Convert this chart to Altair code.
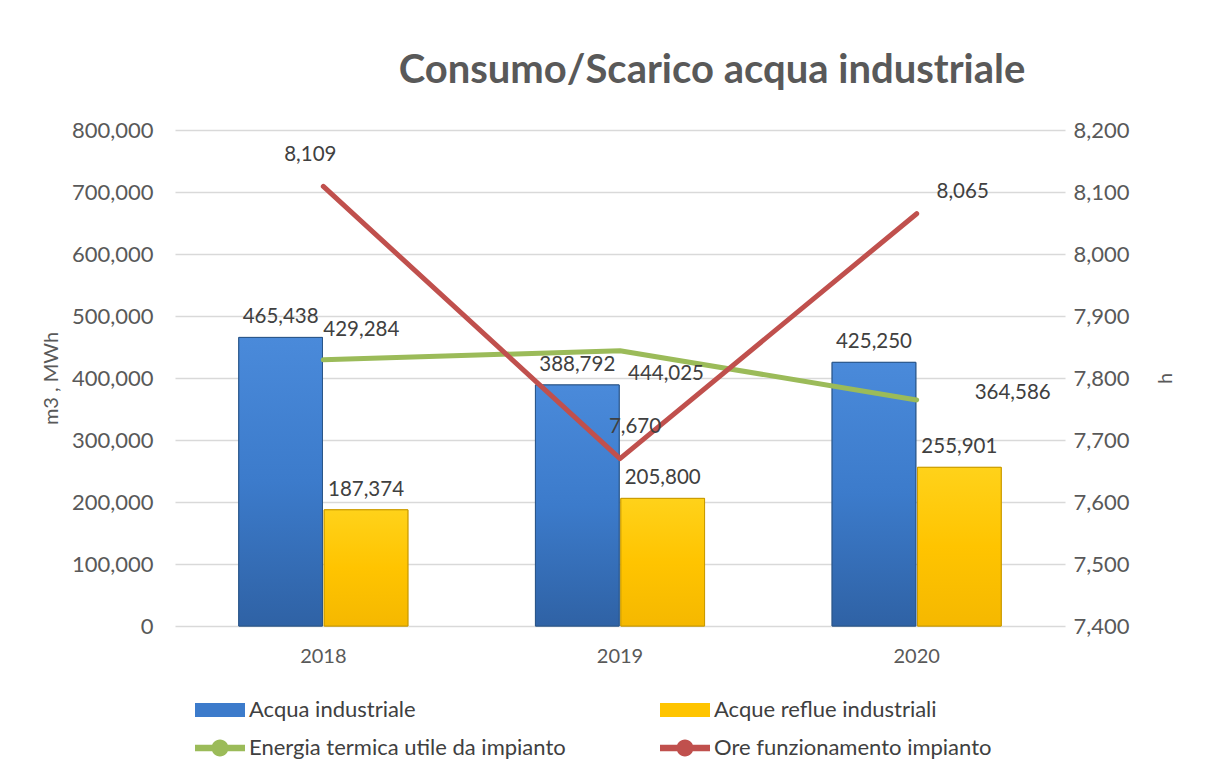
import altair as alt
import pandas as pd

# ---- data ----
anni = ["2018", "2019", "2020"]
acqua_industriale = [465438, 388792, 425250]
acque_reflue = [187374, 205800, 255901]
energia_termica = [429284, 444025, 364586]
ore_funzionamento = [8109, 7670, 8065]

S_ACQ = "Acqua industriale"
S_REF = "Acque reflue industriali"
S_ENE = "Energia termica utile da impianto"
S_ORE = "Ore funzionamento impianto"

bars_df = pd.DataFrame(
    {"anno": anni * 2,
     "serie": [S_ACQ] * 3 + [S_REF] * 3,
     "valore": acqua_industriale + acque_reflue}
)
ene_df = pd.DataFrame({"anno": anni, "serie": S_ENE, "valore": energia_termica})
ore_df = pd.DataFrame({"anno": anni, "serie": S_ORE, "valore": ore_funzionamento})

FONT = "Lato"
TXT = "#404040"
AX = "#595959"
BLUE = "#3C7BCB"
YELLOW = "#FFC400"
GREEN = "#9BBB59"
RED = "#C0504D"
FMT = ",.0f"

x_enc = alt.X(
    "anno:N",
    sort=anni,
    scale=alt.Scale(paddingInner=0.43, paddingOuter=0.215),
    axis=alt.Axis(title=None, labelAngle=0, ticks=False, domain=False,
                  labelFontSize=20, labelColor=AX, labelFont=FONT, labelPadding=20, grid=False),
)
y_left = alt.Y(
    "valore:Q",
    scale=alt.Scale(domain=[0, 800000], nice=False, zero=True),
    axis=alt.Axis(title="m3 , MWh", values=list(range(0, 800001, 100000)), format=FMT,
                  ticks=False, domain=False, labelFontSize=22, labelColor=AX, labelFont=FONT,
                  labelPadding=22, titleFontSize=20, titleColor=AX, titleFont=FONT,
                  titleFontWeight="normal", titlePadding=10,
                  grid=True, gridColor="#D9D9D9", gridWidth=1.5),
)
y_right = alt.Y(
    "valore:Q",
    scale=alt.Scale(domain=[7400, 8200], nice=False, zero=False),
    axis=alt.Axis(title="h", orient="right", values=list(range(7400, 8201, 100)), format=FMT,
                  ticks=False, domain=False, labelFontSize=22, labelColor=AX, labelFont=FONT,
                  labelPadding=8, titleFontSize=20, titleColor=AX, titleFont=FONT,
                  titleFontWeight="normal", titlePadding=46, titleAngle=270, grid=False),
)
xoff = alt.XOffset("serie:N", scale=alt.Scale(domain=[S_ACQ, S_REF], paddingInner=0.02))

RECT_PATH = "M-1,-0.28H1V0.28H-1Z"
LINE_PATH = "M-1,-0.13H1V0.13H-1Z M0.34,0A0.34,0.34,0,1,1,-0.34,0A0.34,0.34,0,1,1,0.34,0Z"


def leg(x, y, path, fill=None):
    kw = dict(title=None, orient="none", legendX=x, legendY=y, symbolType=path,
              symbolSize=2500, labelFontSize=22, labelColor=TXT, labelFont=FONT,
              labelOffset=4, symbolStrokeWidth=0, labelLimit=600)
    if fill:
        kw["symbolFillColor"] = fill
        kw["symbolStrokeColor"] = fill
    return alt.Legend(**kw)


def bar_layer(serie, color, edge, top, bottom, lx):
    base = alt.Chart(bars_df).transform_filter(alt.datum.serie == serie)
    flat = base.mark_bar(stroke=edge, strokeWidth=1).encode(
        x=x_enc, xOffset=xoff, y=y_left,
        color=alt.Color("serie:N", scale=alt.Scale(domain=[serie], range=[color]),
                        legend=leg(lx, 555, RECT_PATH)),
    )
    grad = base.mark_bar(
        stroke=edge, strokeWidth=1,
        fill=alt.Gradient(gradient="linear",
                          stops=[alt.GradientStop(color=top, offset=0),
                                 alt.GradientStop(color=color, offset=0.5),
                                 alt.GradientStop(color=bottom, offset=1)],
                          x1=0, x2=0, y1=0, y2=1),
    ).encode(x=x_enc, xOffset=xoff, y=y_left)
    lab = base.mark_text(baseline="bottom", dy=-10, fontSize=20.5, color=TXT, font=FONT).encode(
        x=x_enc, xOffset=xoff, y=y_left, text=alt.Text("valore:Q", format=FMT),
    )
    return [flat, grad, lab]


blue_layers = bar_layer(S_ACQ, BLUE, "#2B5688", "#4A8ADA", "#2F62A5", 20)
yellow_layers = bar_layer(S_REF, YELLOW, "#C99A00", "#FFD21A", "#F5B800", 485)

ene_line = alt.Chart(ene_df).mark_line(strokeWidth=5, strokeCap="round", strokeJoin="round").encode(
    x=x_enc, y=y_left,
    color=alt.Color("serie:N", scale=alt.Scale(domain=[S_ENE], range=[GREEN]),
                    legend=leg(20, 593, LINE_PATH, GREEN)),
)


def pt_label(df, anno, dx, dy, y, align="center"):
    return alt.Chart(df).transform_filter(alt.datum.anno == anno).mark_text(
        dx=dx, dy=dy, align=align, baseline="middle", fontSize=20.5, color=TXT, font=FONT
    ).encode(x=x_enc, y=y, text=alt.Text("valore:Q", format=FMT))


ene_labels = [
    pt_label(ene_df, "2018", 0, -30, y_left, "left"),
    pt_label(ene_df, "2019", 8, 23, y_left, "left"),
    pt_label(ene_df, "2020", 58, -7, y_left, "left"),
]

ore_line = alt.Chart(ore_df).mark_line(strokeWidth=5, strokeCap="round", strokeJoin="round").encode(
    x=x_enc, y=y_right,
    color=alt.Color("serie:N", scale=alt.Scale(domain=[S_ORE], range=[RED]),
                    legend=leg(485, 593, LINE_PATH, RED)),
)
ore_labels = [
    pt_label(ore_df, "2018", -13, -31, y_right),
    pt_label(ore_df, "2019", 15, -32, y_right),
    pt_label(ore_df, "2020", 46, -22, y_right),
]

left = alt.layer(*blue_layers, *yellow_layers, ene_line, *ene_labels).resolve_scale(color="independent")
right = alt.layer(ore_line, *ore_labels).resolve_scale(color="independent")

chart = alt.layer(left, right).resolve_scale(y="independent", color="independent").properties(
    width=890, height=496,
    background="white",
    autosize=alt.AutoSizeParams(type="none"),
    padding={"left": 167, "top": 122, "right": 140, "bottom": 149},
    title=alt.TitleParams("Consumo/Scarico acqua industriale", fontSize=40, fontWeight="bold",
                          color=AX, font=FONT, anchor="middle", dx=92, offset=28),
).configure_view(stroke=None)

chart.save("out.html", embed_options={"renderer": "svg", "actions": False})
